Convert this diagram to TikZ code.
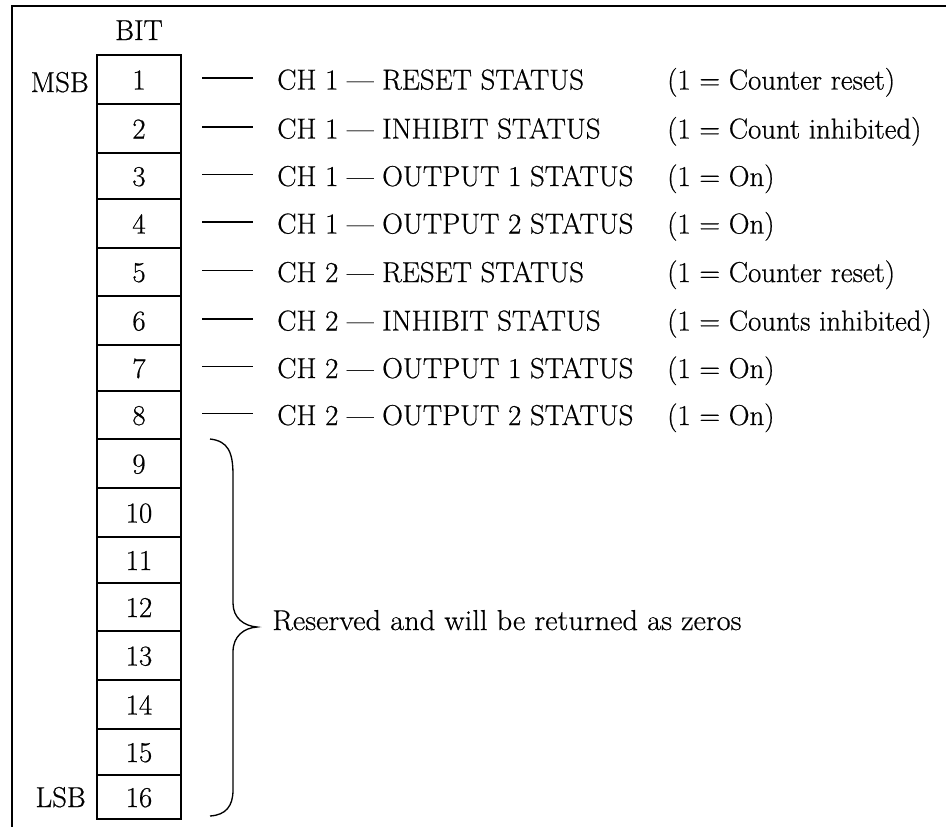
\documentclass[tikz,border=0pt]{standalone}
\usepackage{fontspec}
\setmainfont{Latin Modern Roman}[FakeBold=0.6]
\begin{document}
\begin{tikzpicture}[x=0.75pt,y=-0.75pt,
  frame/.style={line width=1.9pt,line cap=rect},
  cell/.style={line width=1pt},
  tick/.style={line width=1pt},
  lbl/.style={inner sep=0pt,font=\fontsize{21.6pt}{26pt}\selectfont},
  bracestyle/.style={line width=1pt}]
\useasboundingbox (0,0) rectangle (946,826);
\draw[frame] (12,826) -- (12,6) -- (946,6);
% header
\node[lbl,anchor=base] (bit) at (139,40) {BIT};
% cells
\foreach \i/\t/\b in {1/55/104,2/104/153,3/153/199,4/199/248,5/248/296,6/296/345,7/345/391,8/391/439,9/439/488,10/488/537,11/537/583,12/583/631,13/631/680,14/680/729,15/729/775,16/775/819}{
  \draw[cell] (97,\t) rectangle (181,\b);
  \node[lbl,anchor=base] (b\i) at (139,{(\t+\b)/2+10}) {\i};
}
\node[lbl,anchor=base east] (msb) at (89,92) {MSB};
\node[lbl,anchor=base east] (lsb) at (86,807) {LSB};
% status rows
\foreach \i/\c/\n/\v in {1/79.5/CH 1 — RESET STATUS/(1 = Counter reset),
  2/128.5/CH 1 — INHIBIT STATUS/(1 = Count inhibited),
  3/176/CH 1 — OUTPUT 1 STATUS/(1 = On),
  4/223.5/CH 1 — OUTPUT 2 STATUS/(1 = On),
  5/272/CH 2 — RESET STATUS/(1 = Counter reset),
  6/320.5/CH 2 — INHIBIT STATUS/(1 = Counts inhibited),
  7/368/CH 2 — OUTPUT 1 STATUS/(1 = On),
  8/415/CH 2 — OUTPUT 2 STATUS/(1 = On)}{
  \coordinate (la\i) at (202,\c-1.5);
  \coordinate (lb\i) at (253,\c-1.5);
  \draw[tick] (la\i) -- (lb\i);
  \node[lbl,anchor=base west] (n\i) at (277,\c+10) {\n};
  \node[lbl,anchor=base west] (v\i) at (667,\c+10) {\v};
}
% brace
\coordinate (btop) at (210,439);
\coordinate (btip) at (257,627);
\coordinate (bbot) at (210,816);
\draw[bracestyle] (btop) .. controls (228,441) and (233,452) .. (233,475)
  -- (233,603) .. controls (233,618) and (244,626) .. (btip)
  .. controls (244,628) and (233,636) .. (233,652)
  -- (233,790) .. controls (233,806) and (226,815) .. (bbot);
\node[lbl,anchor=base west] (res) at (272,630) {\addfontfeatures{FakeStretch=1.055}Reserved and will be returned as zeros};
\end{tikzpicture}
\end{document}
